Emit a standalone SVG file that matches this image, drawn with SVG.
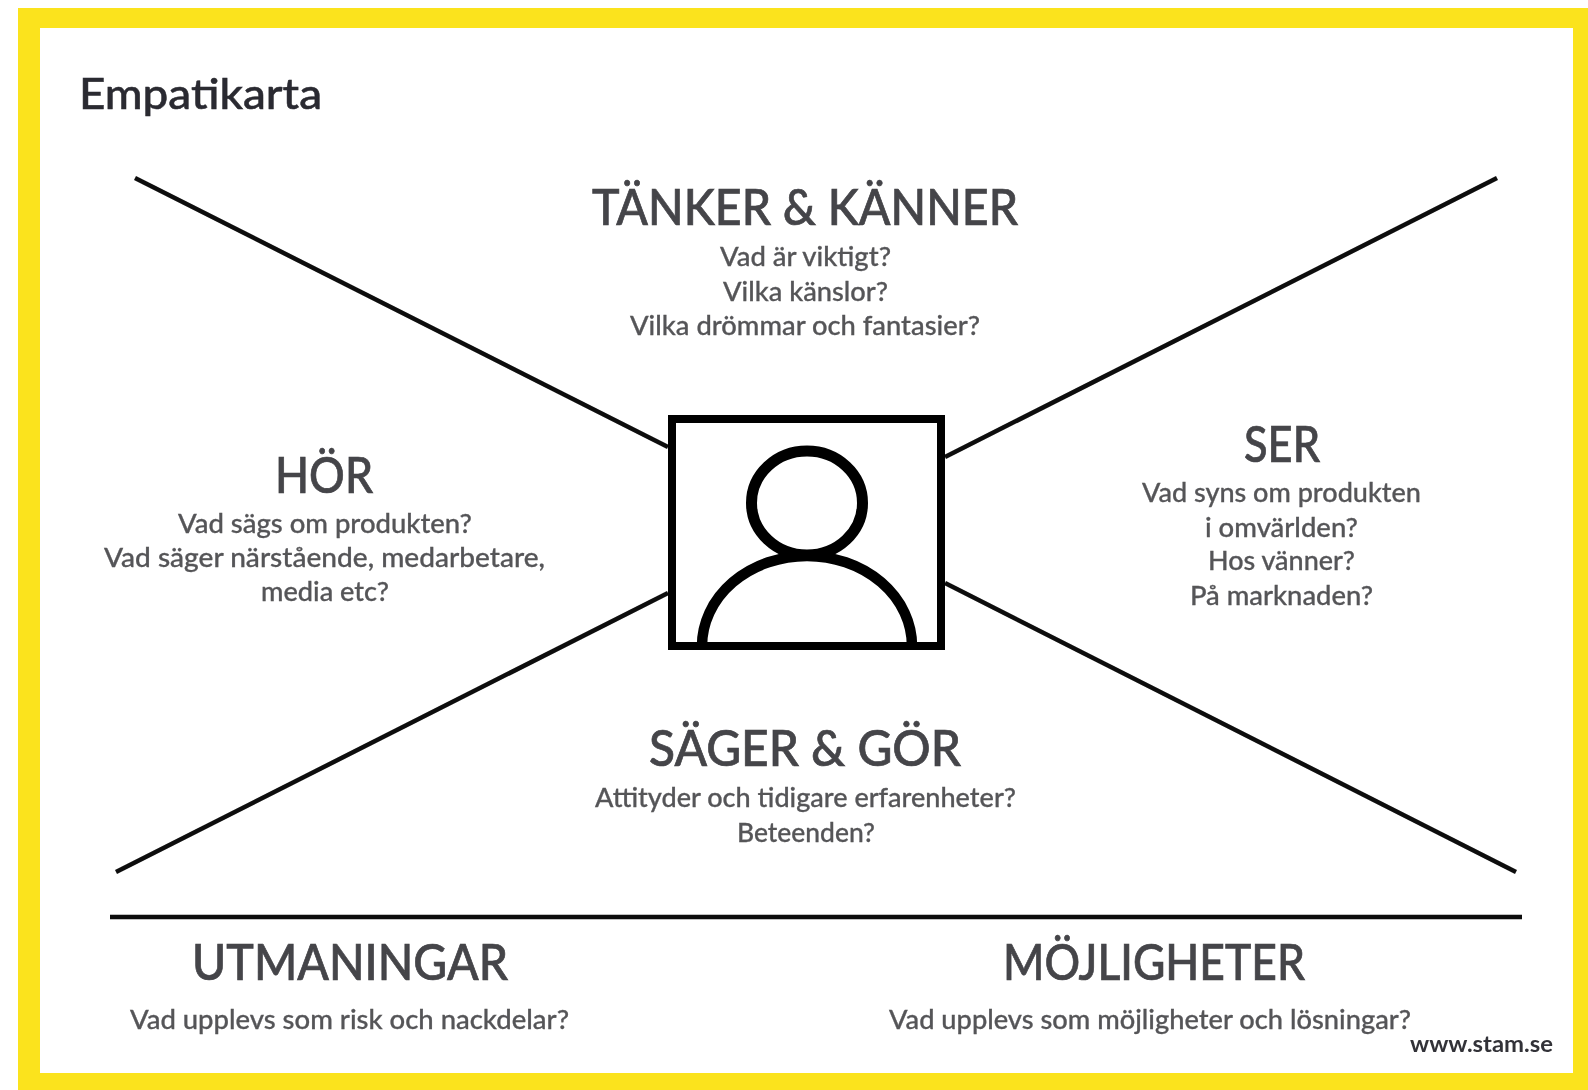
<svg xmlns="http://www.w3.org/2000/svg" width="1588" height="1090" viewBox="0 0 1588 1090">
<style>
text{font-family:"Lato","Noto Sans","Liberation Sans",sans-serif}
.h{font-size:50px;fill:#444448;font-weight:500;stroke:#444448;stroke-width:.7px}
.s{font-size:27px;fill:#555558;font-weight:500;stroke:#555558;stroke-width:.3px}
.t{font-size:43px;fill:#2a2a30;font-weight:500;stroke:#2a2a30;stroke-width:.5px}
.u{font-size:22px;fill:#333338;font-weight:700}
.l{stroke:#0a0a0a;stroke-width:4.5;fill:none}
.k{stroke:#050505;fill:none}
</style>
<defs><filter id="b" x="-5%" y="-5%" width="110%" height="110%"><feGaussianBlur stdDeviation="0.6"/></filter></defs>
<rect width="1588" height="1090" fill="#fff"/>
<path id="frame" fill="#fbe31d" fill-rule="evenodd" d="M18 8H1588V1090H18ZM40 28V1073H1573V28Z"/>
<g filter="url(#b)">
<g id="connectors">
<line class="l" x1="135" y1="178" x2="668" y2="447"/>
<line class="l" x1="1497" y1="178" x2="945" y2="457"/>
<line class="l" x1="116" y1="872" x2="668" y2="593"/>
<line class="l" x1="1516" y1="872" x2="945" y2="583"/>
<line class="l" x1="110" y1="917" x2="1522" y2="917"/>
</g>
<g id="person">
<rect class="k" stroke-width="8" x="672" y="419" width="269" height="227"/>
<ellipse class="k" stroke-width="11" cx="807" cy="503" rx="55.5" ry="52"/>
<path class="k" stroke-width="10.5" d="M702 646A105 90 0 0 1 912 646"/>
</g>
<g id="title"><text class="t" x="79" y="109" textLength="243" lengthAdjust="spacingAndGlyphs">Empatikarta</text></g>
<g id="tanker">
<text class="h" x="592" y="225" textLength="426" lengthAdjust="spacingAndGlyphs">TÄNKER &amp; KÄNNER</text>
<text class="s" x="720" y="266" textLength="171" lengthAdjust="spacingAndGlyphs">Vad är viktigt?</text>
<text class="s" x="723" y="301" textLength="165" lengthAdjust="spacingAndGlyphs">Vilka känslor?</text>
<text class="s" x="630" y="335" textLength="350" lengthAdjust="spacingAndGlyphs">Vilka drömmar och fantasier?</text>
</g>
<g id="hor">
<text class="h" x="275" y="493" textLength="98" lengthAdjust="spacingAndGlyphs">HÖR</text>
<text class="s" x="178" y="533" textLength="294" lengthAdjust="spacingAndGlyphs">Vad sägs om produkten?</text>
<text class="s" x="104" y="567" textLength="441" lengthAdjust="spacingAndGlyphs">Vad säger närstående, medarbetare,</text>
<text class="s" x="261" y="601" textLength="128" lengthAdjust="spacingAndGlyphs">media etc?</text>
</g>
<g id="ser">
<text class="h" x="1244" y="462" textLength="76" lengthAdjust="spacingAndGlyphs">SER</text>
<text class="s" x="1142" y="502" textLength="279" lengthAdjust="spacingAndGlyphs">Vad syns om produkten</text>
<text class="s" x="1205" y="537" textLength="153" lengthAdjust="spacingAndGlyphs">i omvärlden?</text>
<text class="s" x="1208" y="570" textLength="147" lengthAdjust="spacingAndGlyphs">Hos vänner?</text>
<text class="s" x="1190" y="605" textLength="183" lengthAdjust="spacingAndGlyphs">På marknaden?</text>
</g>
<g id="sager">
<text class="h" x="649" y="766" textLength="312" lengthAdjust="spacingAndGlyphs">SÄGER &amp; GÖR</text>
<text class="s" x="595" y="807" textLength="421" lengthAdjust="spacingAndGlyphs">Attityder och tidigare erfarenheter?</text>
<text class="s" x="737" y="842" textLength="138" lengthAdjust="spacingAndGlyphs">Beteenden?</text>
</g>
<g id="utmaningar">
<text class="h" x="192" y="980" textLength="316" lengthAdjust="spacingAndGlyphs">UTMANINGAR</text>
<text class="s" x="130" y="1029" textLength="439" lengthAdjust="spacingAndGlyphs">Vad upplevs som risk och nackdelar?</text>
</g>
<g id="mojligheter">
<text class="h" x="1003" y="980" textLength="302" lengthAdjust="spacingAndGlyphs">MÖJLIGHETER</text>
<text class="s" x="889" y="1029" textLength="522" lengthAdjust="spacingAndGlyphs">Vad upplevs som möjligheter och lösningar?</text>
</g>
<g id="url"><text class="u" x="1410" y="1052" textLength="143" lengthAdjust="spacingAndGlyphs">www.stam.se</text></g>
</g>
</svg>
